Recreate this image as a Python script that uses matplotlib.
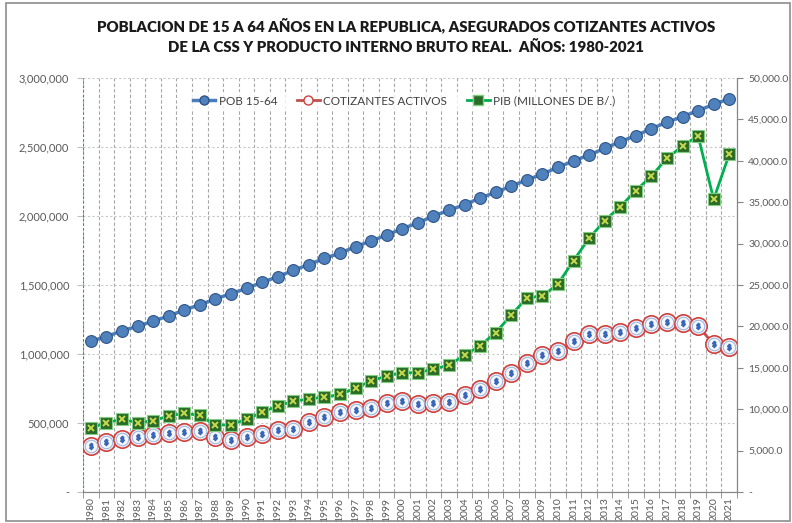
import numpy as np
import matplotlib
matplotlib.use('Agg')
import matplotlib.pyplot as plt
from matplotlib.lines import Line2D
from matplotlib.patches import Rectangle
from matplotlib.ticker import FuncFormatter, FixedLocator

years = list(range(1980, 2022))

pob = [1094000, 1125000, 1169000, 1200000, 1239000, 1275000, 1319000, 1357000,
       1399000, 1437000, 1476000, 1519000, 1560000, 1606000, 1648000, 1693000,
       1730000, 1778000, 1819000, 1862000, 1908000, 1949000, 2000000, 2041000,
       2082000, 2130000, 2172000, 2217000, 2261000, 2304000, 2353000, 2399000,
       2442000, 2490000, 2539000, 2582000, 2633000, 2679000, 2720000, 2763000,
       2809000, 2850000]

cotizantes = [335700, 360000, 386500, 398600, 413000, 429900, 437100, 442000,
              398600, 376800, 401000, 422700, 449300, 458900, 508000, 545900,
              582200, 594200, 606400, 647300, 661900, 635300, 642500, 654600,
              702900, 746400, 804300, 859900, 935000, 990300, 1021700, 1094200,
              1142500, 1142500, 1157000, 1186000, 1215000, 1231900, 1222100,
              1202900, 1070000, 1053200]

pib = [7690, 8370, 8780, 8370, 8610, 9180, 9500, 9260, 8050, 8130, 8780, 9620,
       10390, 10950, 11250, 11440, 11800, 12520, 13440, 14010, 14410, 14410,
       14820, 15340, 16510, 17670, 19240, 21380, 23430, 23670, 25120, 27940,
       30640, 32770, 34460, 36390, 38160, 40300, 41790, 43030, 35350, 40780]

title = ("POBLACION DE 15 A 64 AÑOS EN LA REPUBLICA, ASEGURADOS COTIZANTES ACTIVOS\n"
         "DE LA CSS Y PRODUCTO INTERNO BRUTO REAL.  AÑOS: 1980-2021")

plt.rcParams['font.family'] = ['Lato', 'DejaVu Sans']

fig = plt.figure(figsize=(7.92, 5.23), dpi=100)
fig.patches.append(Rectangle((0.008, 0.004), 0.99, 0.99, transform=fig.transFigure,
                             fill=False, edgecolor='#8c8c8c', lw=1.2))

ax = fig.add_axes([83 / 792, 1 - 492 / 523, (737 - 83) / 792, (492 - 78) / 523])
ax2 = ax.twinx()

x = np.arange(len(years))
tick_col = '#595959'

# poblacion 15-64 (eje izquierdo)
ax.plot(x, pob, color='#4a7ebb', lw=2.5, marker='o', ms=8.5,
        mfc='#4f81bd', mec='#2f5487', mew=0.8, zorder=5)

# cotizantes activos (eje izquierdo)
ax.plot(x, cotizantes, color='#c0504d', lw=2, marker='o', ms=12.5,
        mfc='#f4f7fc', mec='#d0403c', mew=1.2, zorder=4)
ax.plot(x, cotizantes, ls='none', marker='o', ms=9, mfc='none',
        mec='#9db8e0', mew=0.8, zorder=4)
ax.plot(x, cotizantes, ls='none', marker=r'$\$$', ms=4.5, color='#3a66b8', zorder=4)

# PIB (eje derecho)
ax2.plot(x, pib, color='#00b050', lw=2, marker='s', ms=8.5,
         mfc='#2a6b2a', mec='#7fcf7f', mew=0.8, zorder=5)
ax2.plot(x, pib, ls='none', marker='x', ms=5, color='#c5d94a', mew=1.4, zorder=6)

ax.set_xlim(-0.5, len(years) - 0.5)
ax.set_ylim(0, 3000000)
ax2.set_ylim(0, 50000)

ax.set_yticks(np.arange(0, 3000001, 500000))
ax2.set_yticks(np.arange(0, 50001, 5000))
ax.yaxis.set_major_formatter(FuncFormatter(lambda v, p: '-' if v == 0 else f'{v:,.0f}'))
ax2.yaxis.set_major_formatter(FuncFormatter(lambda v, p: '-' if v == 0 else f'{v:,.1f}'))

ax.set_xticks(x)
ax.set_xticklabels([str(y) for y in years], rotation=90, fontsize=7.5, color=tick_col)
ax.xaxis.set_minor_locator(FixedLocator(np.arange(-0.5, len(years), 1)))
ax.tick_params(axis='x', which='major', length=0, pad=4)
ax.tick_params(axis='x', which='minor', length=4, color='#868686', direction='out')
ax.tick_params(axis='y', labelsize=8, labelcolor=tick_col, length=4, color='#bfbfbf', pad=6)
ax2.tick_params(axis='y', labelsize=7.5, labelcolor=tick_col, length=4, color='#868686', pad=4)

# rejillas
ax.grid(axis='y', which='major', color='#c8c8c8', ls=(0, (2, 2)), lw=0.8)
ax.grid(axis='x', which='minor', color='#a6a6a6', ls=(0, (3, 2)), lw=0.8)
ax.set_axisbelow(True)

for a in (ax, ax2):
    a.spines['top'].set_visible(False)
    a.spines['left'].set_visible(False)
    a.spines['bottom'].set_color('#868686')
    a.spines['right'].set_color('#868686')
ax.axvline(-0.5, color='#00b050', ls=(0, (2, 2)), lw=0.8, zorder=1)

fig.text(0.513, 0.931, title, ha='center', va='center', fontsize=10.8,
         fontweight='heavy', color='#1a1a1a', linespacing=1.55)

handles = [
    Line2D([], [], color='#4a7ebb', lw=2.5, marker='o', ms=6.5, mfc='#4f81bd', mec='#2f5487'),
    Line2D([], [], color='#c0504d', lw=2, marker='o', ms=6.5, mfc='#f4f7fc', mec='#d0403c'),
    Line2D([], [], color='#00b050', lw=2, marker='s', ms=6.5, mfc='#2a6b2a', mec='#7fcf7f'),
]
labels = ['POB 15-64', 'COTIZANTES ACTIVOS', 'PIB (MILLONES DE B/.)']
leg = fig.legend(handles, labels, loc='center', bbox_to_anchor=(404 / 792, 1 - 101 / 523),
                 ncol=3, frameon=True, fontsize=8.5, handlelength=1.9, columnspacing=1.7,
                 handletextpad=0.3, borderpad=0.3)
leg.get_frame().set_facecolor('white')
leg.get_frame().set_edgecolor('none')
for t in leg.get_texts():
    t.set_color('#404040')

plt.savefig('out.png', dpi=100)
